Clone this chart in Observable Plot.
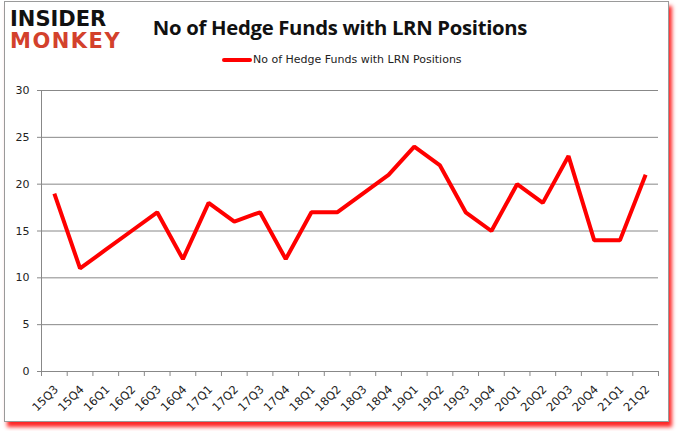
<!DOCTYPE html>
<html>
<head>
<meta charset="utf-8">
<script src="https://cdn.jsdelivr.net/npm/d3@7"></script>
<script src="https://cdn.jsdelivr.net/npm/@observablehq/plot@0.6"></script>
<style>
  html, body { margin: 0; padding: 0; background: #fff; }
  #wrap { position: relative; width: 678px; height: 431px; overflow: hidden; background: #fff; }
  #frame { position: absolute; left: 4px; top: 1px; width: 663px; height: 419px; border: 1px solid #9a9a9a; box-shadow: 3px 5px 4px rgba(255,0,0,0.85); background: #fff; }
  #chart { position: absolute; left: 0; top: 0; }
  .logo { position: absolute; left: 10px; font-family: "DejaVu Sans", sans-serif; font-weight: 900; line-height: 1; transform-origin: left top; }
  #l1 { top: 9px; font-size: 21px; color: #111; letter-spacing: 0px; }
  #l2 { top: 31px; font-size: 21px; color: #d3412c; letter-spacing: 1.5px; }
  #title { position: absolute; top: 13px; left: 140px; width: 400px; text-align: center; font-family: "Open Sans", sans-serif; font-weight: bold; font-size: 20.3px; color: #111; letter-spacing: -0.3px; }
  #legend { position: absolute; top: 53px; left: 222px; font-family: "DejaVu Sans", sans-serif; font-size: 11px; color: #222; display: flex; align-items: center; }
  #legend .sw { display: inline-block; width: 30px; height: 4px; background: #ff0000; border-radius: 2px; margin-right: 1px; }
</style>
</head>
<body>
<div id="wrap">
  <div id="frame"></div>
  <div id="chart"></div>
  <div class="logo" id="l1">INSIDER</div>
  <div class="logo" id="l2">MONKEY</div>
  <div id="title">No of Hedge Funds with LRN Positions</div>
  <div id="legend"><span class="sw"></span><span>No of Hedge Funds with LRN Positions</span></div>
</div>
<script>
const quarters = ["15Q3","15Q4","16Q1","16Q2","16Q3","16Q4","17Q1","17Q2","17Q3","17Q4","18Q1","18Q2","18Q3","18Q4","19Q1","19Q2","19Q3","19Q4","20Q1","20Q2","20Q3","20Q4","21Q1","21Q2"];
const funds = [19,11,13,15,17,12,18,16,17,12,17,17,19,21,24,22,17,15,20,18,23,14,14,21];
const yTicks = [0,5,10,15,20,25,30];

const data = quarters.map((q, i) => ({i, q, v: funds[i]}));
const idx = quarters.map((_, i) => i);
const edges = idx.map(i => i - 0.5).concat([quarters.length - 0.5]);

const chart = Plot.plot({
  width: 678,
  height: 431,
  marginLeft: 41,
  marginRight: 20,
  marginTop: 90,
  marginBottom: 60,
  style: {background: "transparent", fontFamily: "DejaVu Sans, sans-serif", fontSize: "11px", color: "#222"},
  x: {type: "linear", domain: [-0.5, quarters.length - 0.5], axis: null},
  y: {domain: [0, 30], axis: null},
  marks: [
    Plot.gridY(yTicks, {stroke: "#888", strokeOpacity: 1, strokeWidth: 1}),
    Plot.ruleX([-0.5], {stroke: "#888", strokeWidth: 1}),
    Plot.ruleY([0], {stroke: "#888", strokeWidth: 1}),
    Plot.axisY(yTicks, {tickSize: 4, tickPadding: 8, stroke: "#888", label: null, fontSize: 11, fill: "#222"}),
    Plot.axisX(edges, {tickSize: 5, stroke: "#888", tickFormat: () => "", label: null}),
    Plot.text(data, {x: "i", text: "q", frameAnchor: "bottom", dy: 16, dx: 2, rotate: -45, textAnchor: "end", lineAnchor: "middle", fontSize: 11.5, fill: "#222"}),
    Plot.line(data, {x: "i", y: "v", stroke: "#ff0000", strokeWidth: 4, strokeLinejoin: "miter", strokeLinecap: "butt"})
  ]
});
document.getElementById("chart").appendChild(chart);
</script>
</body>
</html>
